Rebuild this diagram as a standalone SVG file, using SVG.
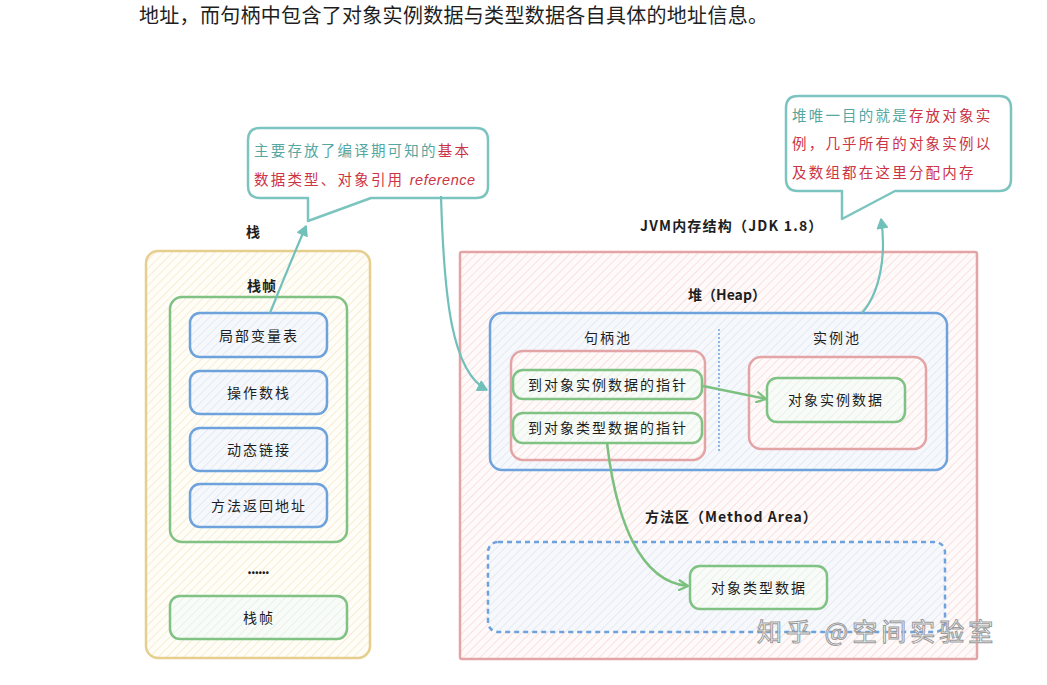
<svg xmlns="http://www.w3.org/2000/svg" width="1047" height="685" viewBox="0 0 1047 685">
<style>
.t{font-family:"Noto Sans CJK SC","Noto Sans",sans-serif;fill:#1e1e1e}
.b{font-weight:700}
.n{font-size:14px;letter-spacing:2px;text-anchor:middle}
.h{font-size:14px;font-weight:700;text-anchor:middle}
.teal{fill:#55a7a2}
.red{fill:#cc3344}
.bub{fill:#ffffff;stroke:#7cc4bf;stroke-width:2.5;stroke-linejoin:round}
.yel{stroke:#e6cf8e;stroke-width:2.5;fill:url(#hY)}
.grn{stroke:#80c283;stroke-width:2.5;fill:url(#hG)}
.blu{stroke:#6ea2dc;stroke-width:2.5;fill:url(#hB)}
.pnk{stroke:#e3a4a6;stroke-width:2.5;fill:url(#hP)}
.cT{fill:none;stroke:#72c0ba;stroke-width:2.2}
.cG{fill:none;stroke:#7cc07f;stroke-width:2.5}
</style>
<defs>
<pattern id="hY" width="6" height="6" patternUnits="userSpaceOnUse" patternTransform="rotate(45)"><rect width="6" height="6" fill="#fffdf7"/><line x1="0" y1="0" x2="0" y2="6" stroke="#f3e7c6" stroke-width="1.4"/></pattern>
<pattern id="hP" width="6" height="6" patternUnits="userSpaceOnUse" patternTransform="rotate(45)"><rect width="6" height="6" fill="#fffafa"/><line x1="0" y1="0" x2="0" y2="6" stroke="#f6d6d7" stroke-width="1.4"/></pattern>
<pattern id="hB" width="6" height="6" patternUnits="userSpaceOnUse" patternTransform="rotate(45)"><rect width="6" height="6" fill="#f6f8fc"/><line x1="0" y1="0" x2="0" y2="6" stroke="#dce6f3" stroke-width="1.4"/></pattern>
<pattern id="hG" width="6" height="6" patternUnits="userSpaceOnUse" patternTransform="rotate(45)"><rect width="6" height="6" fill="#f8fbf8"/><line x1="0" y1="0" x2="0" y2="6" stroke="#e2efe2" stroke-width="1.4"/></pattern>
<marker id="aT" viewBox="0 0 12 12" refX="10" refY="6" markerWidth="12" markerHeight="12" markerUnits="userSpaceOnUse" orient="auto"><path d="M1,1 L10,6 L1,11 Z" fill="#72c0ba" stroke="#72c0ba" stroke-width="1.5" stroke-linejoin="round"/></marker>
<marker id="aG" viewBox="0 0 12 12" refX="10" refY="6" markerWidth="12" markerHeight="12" markerUnits="userSpaceOnUse" orient="auto"><path d="M1,1 L10,6 L1,11" fill="none" stroke="#7cc07f" stroke-width="2.2" stroke-linejoin="round" stroke-linecap="round"/></marker>
</defs>

<rect width="1047" height="685" fill="#ffffff"/>
<text class="t" x="139" y="23" font-size="20" letter-spacing="0.3">地址，而句柄中包含了对象实例数据与类型数据各自具体的地址信息。</text>

<g id="bubble-stack">
<path class="bub" d="M260,128 H476 Q488,128 488,140 V186 Q488,198 476,198 H371 L308,221 L308,198 H260 Q248,198 248,186 V140 Q248,128 260,128 Z"/>
<text class="t" x="254" y="156" font-size="14.5" letter-spacing="2.2"><tspan class="teal">主要存放了编译期可知的</tspan><tspan class="red">基本</tspan></text>
<text class="t red" x="254" y="185" font-size="14.5" letter-spacing="2.2">数据类型、对象引用 <tspan font-family="Liberation Sans" font-style="italic" letter-spacing="0.5">reference</tspan></text>
</g>

<g id="bubble-heap">
<path class="bub" d="M798,96 H999 Q1011,96 1011,108 V179 Q1011,191 999,191 H895 L842,219 L842,191 H798 Q786,191 786,179 V108 Q786,96 798,96 Z"/>
<text class="t" x="792" y="121" font-size="14.5" letter-spacing="2.2"><tspan class="teal">堆唯一目的就是</tspan><tspan class="red">存放对象实</tspan></text>
<text class="t red" x="792" y="149" font-size="14.5" letter-spacing="2.2">例，几乎所有的对象实例以</text>
<text class="t red" x="792" y="178" font-size="14.5" letter-spacing="2.2">及数组都在这里分配内存</text>
</g>

<g id="stack">
<text class="t h" x="253" y="237">栈</text>
<rect class="yel" x="146" y="251" width="224" height="407" rx="12"/>
</g>
<g id="stack-frame">
<text class="t h" x="262" y="291" letter-spacing="1">栈帧</text>
<rect class="grn" x="170" y="297" width="177" height="245" rx="12" fill-opacity="0"/>
</g>
<g id="local-vars"><rect class="blu" x="190" y="313" width="137" height="44" rx="10"/><text class="t n" x="259" y="341">局部变量表</text></g>
<g id="operand-stack"><rect class="blu" x="190" y="371" width="137" height="43" rx="10"/><text class="t n" x="259" y="398">操作数栈</text></g>
<g id="dynamic-link"><rect class="blu" x="190" y="428" width="137" height="43" rx="10"/><text class="t n" x="259" y="455">动态链接</text></g>
<g id="return-addr"><rect class="blu" x="190" y="484" width="137" height="43" rx="10"/><text class="t n" x="259" y="511">方法返回地址</text></g>
<g id="ellipsis"><text class="t h" x="258" y="574" letter-spacing="-1">......</text></g>
<g id="stack-frame-2"><rect class="grn" x="170" y="596" width="177" height="43" rx="10"/><text class="t n" x="259" y="623">栈帧</text></g>

<g id="jvm">
<text class="t b" x="640" y="231" font-size="14" letter-spacing="1.2">JVM内存结构（JDK 1.8）</text>
<rect class="pnk" x="460" y="252" width="517" height="407" rx="2"/>
</g>
<g id="heap">
<text class="t h" x="727" y="300">堆（Heap）</text>
<rect class="blu" x="490" y="313" width="457" height="157" rx="12"/>
<line x1="719" y1="329" x2="719" y2="453" stroke="#6ea2dc" stroke-width="1.5" stroke-dasharray="2,2"/>
</g>
<g id="handle-pool">
<text class="t n" x="608" y="343">句柄池</text>
<rect class="pnk" x="511" y="351" width="194" height="109" rx="12"/>
</g>
<g id="ptr-instance"><rect class="grn" x="513" y="370" width="189" height="29" rx="10"/><text class="t n" x="608" y="390">到对象实例数据的指针</text></g>
<g id="ptr-type"><rect class="grn" x="513" y="413" width="189" height="30" rx="10"/><text class="t n" x="608" y="433">到对象类型数据的指针</text></g>
<g id="instance-pool">
<text class="t n" x="837" y="343">实例池</text>
<rect class="pnk" x="749" y="357" width="177" height="92" rx="12"/>
</g>
<g id="instance-data"><rect class="grn" x="767" y="378" width="138" height="44" rx="10"/><text class="t n" x="836" y="405">对象实例数据</text></g>
<g id="method-area">
<text class="t b" x="645" y="522" font-size="14" letter-spacing="1">方法区（Method Area）</text>
<rect x="488" y="542" width="457" height="90" rx="10" fill="url(#hB)" fill-opacity="0.9" stroke="#6ea2dc" stroke-width="2.5" stroke-dasharray="5,4"/>
</g>
<g id="type-data"><rect class="grn" x="690" y="566" width="137" height="43" rx="10"/><text class="t n" x="759" y="593">对象类型数据</text></g>

<g id="connectors">
<path class="cT" d="M270,313 Q288,268 306,226" marker-end="url(#aT)"/>
<path class="cT" d="M441,196 C444,300 452,372 487,390" marker-end="url(#aT)"/>
<path class="cT" d="M862,313 C882,290 886,250 881,219" marker-end="url(#aT)"/>
<path class="cG" d="M703,386 L766,399" marker-end="url(#aG)"/>
<path class="cG" d="M607,443 C616,520 640,582 688,586" marker-end="url(#aG)"/>
</g>

<g id="watermark">
<text x="757" y="641" font-family="Noto Sans CJK SC, sans-serif" font-size="25" letter-spacing="4" fill="#ffffff" fill-opacity="0.8" stroke="#9a9a9a" stroke-width="1">知乎 @空间实验室</text>
</g>
</svg>
